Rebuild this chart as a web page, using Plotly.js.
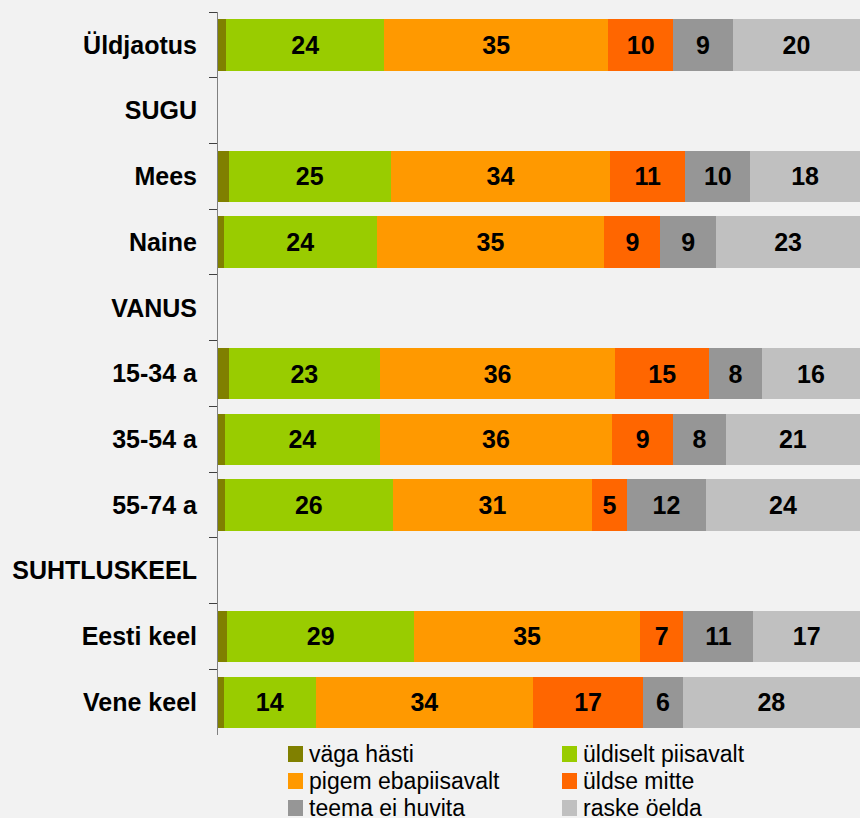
<!DOCTYPE html>
<html>
<head>
<meta charset="utf-8">
<script src="https://cdn.plot.ly/plotly-3.0.1.min.js"></script>
<style>html,body{margin:0;padding:0;background:#f2f2f2;}#chart{width:860px;height:818px;}</style>
</head>
<body>
<div id="chart"></div>
<script>
// Categories (top to bottom)
var categories = ['Üldjaotus','SUGU','Mees','Naine','VANUS','15-34 a','35-54 a','55-74 a','SUHTLUSKEEL','Eesti keel','Vene keel'];

// Series names and colours
var seriesNames = ['väga hästi','üldiselt piisavalt','pigem ebapiisavalt','üldse mitte','teema ei huvita','raske öelda'];
var seriesColors = ['#808000','#99cc00','#ff9900','#ff6600','#969696','#c0c0c0'];

// Segment widths (percent), null for heading rows
var vagaHasti        = [1.3, null, 1.7, 0.9, null, 1.7, 1.1, 1.1, null, 1.4, 0.9];
var uldiseltPiisav   = [24.6, null, 25.2, 23.8, null, 23.5, 24.1, 26.1, null, 29.2, 14.3];
var pigemEbapiisav   = [34.9, null, 34.2, 35.5, null, 36.7, 36.2, 31.1, null, 35.1, 33.9];
var uldseMitte       = [10.1, null, 11.7, 8.7, null, 14.6, 9.5, 5.4, null, 6.8, 17.1];
var teemaEiHuvita    = [9.3, null, 10.1, 8.7, null, 8.2, 8.2, 12.3, null, 10.9, 6.2];
var raskeOelda       = [19.8, null, 17.1, 22.4, null, 15.3, 20.9, 24.0, null, 16.6, 27.6];

// Printed labels
var lblVaga     = ['', '', '', '', '', '', '', '', '', '', ''];
var lblUldiselt = ['24','','25','24','','23','24','26','','29','14'];
var lblPigem    = ['35','','34','35','','36','36','31','','35','34'];
var lblUldse    = ['10','','11','9','','15','9','5','','7','17'];
var lblTeema    = ['9','','10','9','','8','8','12','','11','6'];
var lblRaske    = ['20','','18','23','','16','21','24','','17','28'];

var seriesValues = [vagaHasti, uldiseltPiisav, pigemEbapiisav, uldseMitte, teemaEiHuvita, raskeOelda];
var seriesLabels = [lblVaga, lblUldiselt, lblPigem, lblUldse, lblTeema, lblRaske];

var FONT = '"Liberation Sans", Arial, Helvetica, sans-serif';

var traces = seriesNames.map(function(name, i){
  return {
    type: 'bar',
    orientation: 'h',
    name: name,
    y: categories,
    x: seriesValues[i],
    text: seriesLabels[i],
    textposition: 'inside',
    insidetextanchor: 'middle',
    constraintext: 'none',
    textfont: {family: FONT, size: 25, color: '#000000', weight: 'bold'},
    marker: {color: seriesColors[i], line: {width: 0}},
    hoverinfo: 'skip',
    showlegend: false
  };
});

// Custom legend (2 columns x 3 rows) drawn in paper coordinates
var L = 218, R = 860, T = 12, B = 735;
var W = R - L, H = B - T;
function px2x(p){ return (p - L) / W; }
function px2y(p){ return (B - p) / H; }
var colSwatch = [288, 562];
var rowCenter = [754, 781, 808];
var shapes = [], annotations = [];
seriesNames.forEach(function(name, i){
  var c = i % 2, r = Math.floor(i / 2);
  var cx = colSwatch[c], cy = rowCenter[r];
  shapes.push({type:'rect', xref:'paper', yref:'paper',
    x0: px2x(cx), x1: px2x(cx + 15), y0: px2y(cy - 8), y1: px2y(cy + 8),
    fillcolor: seriesColors[i], line: {width: 0}});
  annotations.push({xref:'paper', yref:'paper', x: px2x(cx + 19), y: px2y(cy),
    xanchor:'left', yanchor:'middle', showarrow:false, text: name,
    font:{family: FONT, size: 23, color:'#000000'}});
});

var layout = {
  width: 860, height: 818,
  margin: {l: L, r: 0, t: T, b: 818 - B, pad: 0},
  paper_bgcolor: '#f2f2f2',
  plot_bgcolor: '#f2f2f2',
  barmode: 'stack',
  bargap: 0.22,
  showlegend: false,
  xaxis: {range: [0, 100], visible: false, fixedrange: true},
  yaxis: {
    type: 'category',
    categoryorder: 'array',
    categoryarray: categories,
    autorange: 'reversed',
    tickson: 'boundaries',
    ticks: 'outside',
    ticklen: 8,
    tickwidth: 1,
    tickcolor: '#404040',
    showline: true,
    linecolor: '#808080',
    linewidth: 1,
    showgrid: false,
    zeroline: false,
    automargin: false,
    ticklabelstandoff: 15,
    tickfont: {family: FONT, size: 25, color: '#000000', weight: 'bold'},
    fixedrange: true
  },
  shapes: shapes,
  annotations: annotations
};

Plotly.newPlot('chart', traces, layout, {displayModeBar: false, staticPlot: true});
</script>
</body>
</html>
